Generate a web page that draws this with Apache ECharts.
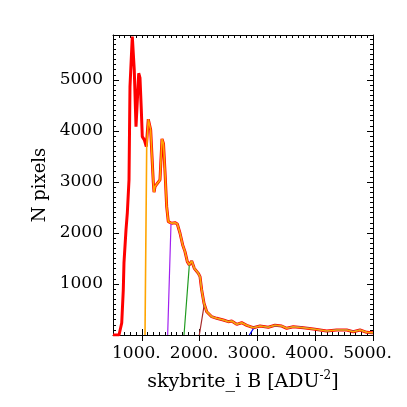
<!DOCTYPE html>
<html>
<head>
<meta charset="utf-8">
<script src="https://cdn.jsdelivr.net/npm/echarts@6/dist/echarts.min.js"></script>
<style>
  html, body { margin: 0; padding: 0; background: #fff; }
  #chart { width: 407px; height: 407px; }
</style>
</head>
<body>
<div id="chart"></div>
<script>
// total histogram (red)
const totalX = [500, 560, 604, 651, 678, 690, 725, 748, 777, 794, 812, 834, 846, 868, 898, 915, 945, 967, 990, 1007, 1042, 1076, 1111, 1152, 1175, 1197, 1210, 1227, 1253, 1284, 1313, 1348, 1374, 1400, 1429, 1457, 1516, 1573, 1613, 1660, 1706, 1746, 1786, 1821, 1862, 1907, 1976, 2006, 2035, 2075, 2122, 2208, 2295, 2409, 2496, 2554, 2641, 2727, 2814, 2928, 3044, 3188, 3304, 3420, 3506, 3621, 3794, 3967, 4199, 4371, 4545, 4659, 4775, 4891, 4983, 5000]
const totalY = [0, 0, 0, 235, 882, 1412, 2059, 2392, 3039, 4869, 4902, 5849, 5880, 5196, 4084, 4052, 5131, 5039, 4412, 3888, 3824, 3692, 4229, 4020, 3496, 3000, 2800, 2908, 2950, 2980, 3040, 3843, 3750, 3200, 2516, 2222, 2190, 2202, 2176, 1994, 1765, 1634, 1438, 1373, 1451, 1307, 1209, 1144, 882, 621, 457, 359, 327, 294, 261, 275, 209, 241, 190, 143, 176, 151, 190, 176, 131, 163, 143, 118, 78, 98, 98, 65, 98, 53, 45, 45]

// sub-histograms: each starts at zero and climbs onto the total curve
const compStartX = [1054, 1446, 1729, 1994, 2859]
const compJoinX = [1083, 1504, 1821, 2080, 2945]
const compJoinY = [3660, 2190, 1373, 600, 150]

const xTickValues = [1000, 2000, 3000, 4000, 5000]
const yTickValues = [1000, 2000, 3000, 4000, 5000]

const compColors = ['#ffa500', '#a020f0', '#1f9a1f', '#a52a2a', '#0000ff']
const compWidths = [1.6, 1.2, 1.2, 1.2, 1.2]
const font = 'DejaVu Serif'

const chart = echarts.init(document.getElementById('chart'))

const totalData = totalX.map((x, i) => [x, totalY[i]])
const compData = compStartX.map((sx, k) => {
  const pts = [[sx, 0], [compJoinX[k], compJoinY[k]]]
  totalData.forEach(p => { if (p[0] > compJoinX[k]) pts.push(p) })
  return pts
})

const series = [{
  type: 'line',
  data: totalData,
  showSymbol: false,
  lineStyle: { color: '#ff0000', width: 3 },
  z: 1
}]
// draw the later components first so orange ends on top
for (let k = compData.length - 1; k >= 0; k--) {
  series.push({
    type: 'line',
    data: compData[k],
    showSymbol: false,
    lineStyle: { color: compColors[k], width: compWidths[k] },
    z: 2 + (compData.length - k)
  })
}

const black = { color: '#000', width: 1 }
const minorX = (pos) => ({
  type: 'value', position: pos, min: 500, max: 5000, interval: 100,
  axisLine: { show: true, onZero: false, lineStyle: black },
  axisTick: { show: true, inside: true, length: 3, lineStyle: black },
  axisLabel: { show: false },
  splitLine: { show: false }
})
const majorX = (pos) => ({
  type: 'value', position: pos, min: 500, max: 5000,
  axisLine: { show: false },
  axisTick: { show: true, inside: true, length: 6, lineStyle: black, customValues: xTickValues },
  axisLabel: { show: false },
  splitLine: { show: false }
})
const minorY = (pos) => ({
  type: 'value', position: pos, min: 0, max: 5880, interval: 100,
  axisLine: { show: true, onZero: false, lineStyle: black },
  axisTick: { show: true, inside: true, length: 3, lineStyle: black },
  axisLabel: { show: false },
  splitLine: { show: false }
})
const majorY = (pos) => ({
  type: 'value', position: pos, min: 0, max: 5880,
  axisLine: { show: false },
  axisTick: { show: true, inside: true, length: 6, lineStyle: black, customValues: yTickValues },
  axisLabel: { show: false },
  splitLine: { show: false }
})

const xMain = minorX('bottom')
xMain.axisLabel = {
  show: true, customValues: xTickValues, formatter: v => v + '.',
  color: '#000', fontFamily: font, fontSize: 17, margin: 10,
  padding: [0, 11, 0, 0]
}
xMain.name = 'skybrite_i B [ADU{sup|-2}]'
xMain.nameLocation = 'middle'
xMain.nameGap = 35
xMain.nameTextStyle = {
  color: '#000', fontFamily: font, fontSize: 19,
  rich: { sup: { fontFamily: font, fontSize: 12, padding: [0, 0, 13, 0] } }
}

const yMain = minorY('left')
yMain.axisLabel = {
  show: true, customValues: yTickValues, formatter: v => String(v),
  color: '#000', fontFamily: font, fontSize: 17, margin: 10
}
yMain.name = 'N pixels'
yMain.nameLocation = 'middle'
yMain.nameGap = 64
yMain.nameTextStyle = { color: '#000', fontFamily: font, fontSize: 18 }

chart.setOption({
  animation: false,
  backgroundColor: '#fff',
  grid: { left: 113, right: 34, top: 35, bottom: 72, containLabel: false },
  xAxis: [xMain, majorX('bottom'), minorX('top'), majorX('top')],
  yAxis: [yMain, majorY('left'), minorY('right'), majorY('right')],
  series
})
</script>
</body>
</html>
